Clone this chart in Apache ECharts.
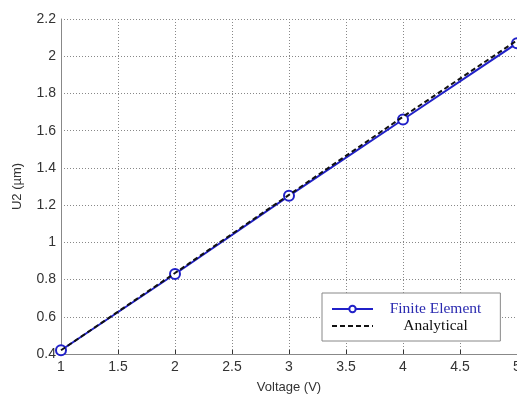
<!DOCTYPE html>
<html><head><meta charset="utf-8">
<script src="https://cdn.jsdelivr.net/npm/echarts@6/dist/echarts.min.js"></script>
<style>html,body{margin:0;padding:0;background:#fff}#c{width:517px;height:396px}</style>
</head><body><div id="c"></div>
<script>
const voltage = [1, 2, 3, 4, 5];
const finiteElement = [0.42, 0.83, 1.25, 1.66, 2.07];
const analytical = [0.42, 0.835, 1.255, 1.675, 2.085];
const seriesNames = ['Finite Element', 'Analytical'];

const chart = echarts.init(document.getElementById('c'));
const gridLine = {show: true, lineStyle: {color: '#888', type: [1, 2], width: 1}};
chart.setOption({
  animation: false,
  backgroundColor: '#fff',
  grid: {left: 61, right: 0, top: 19, bottom: 42, outerBoundsMode: 'none', containLabel: false},
  xAxis: {
    type: 'value', min: 1, max: 5, interval: 0.5,
    name: 'Voltage (V)', nameLocation: 'middle', nameGap: 27,
    nameTextStyle: {fontFamily: 'Liberation Sans', fontSize: 13, color: '#333'},
    axisLine: {lineStyle: {color: '#888'}},
    axisTick: {inside: true, length: 4, lineStyle: {color: '#333'}},
    axisLabel: {fontFamily: 'Liberation Sans', fontSize: 14, color: '#333', margin: 6},
    splitLine: gridLine
  },
  yAxis: {
    type: 'value', min: 0.4, max: 2.2, interval: 0.2,
    name: 'U2 (µm)', nameLocation: 'middle', nameGap: 37, nameRotate: 90,
    nameTextStyle: {fontFamily: 'Liberation Sans', fontSize: 13, color: '#333'},
    axisLine: {show: true, lineStyle: {color: '#888'}},
    axisTick: {show: false},
    axisLabel: {fontFamily: 'Liberation Sans', fontSize: 14, color: '#333', margin: 5,
      formatter: v => String(Math.round(v * 10) / 10)},
    splitLine: gridLine
  },
  legend: {
    left: 322, top: 293, orient: 'vertical',
    backgroundColor: '#fff', borderColor: '#888', borderWidth: 1,
    padding: [8, 19, 7, 9], itemGap: 1, itemWidth: 41, itemHeight: 8,
    formatter: name => '{t|' + name + '}',
    textStyle: {fontFamily: 'Liberation Serif', fontSize: 15.5,
      rich: {t: {width: 115, align: 'center', fontFamily: 'Liberation Serif', fontSize: 15.5}}},
    data: [
      {name: seriesNames[0], textStyle: {color: '#2a2ab0'}},
      {name: seriesNames[1], textStyle: {color: '#111'}, itemStyle: {opacity: 0}}
    ]
  },
  series: [
    {
      name: seriesNames[1], type: 'line', data: voltage.map((v, i) => [v, analytical[i]]),
      symbol: 'none', lineStyle: {color: '#111', width: 2, type: [5, 3]}, itemStyle: {color: '#111'}, z: 3
    },
    {
      name: seriesNames[0], type: 'line', data: voltage.map((v, i) => [v, finiteElement[i]]),
      symbol: 'emptyCircle', symbolSize: 10,
      lineStyle: {color: '#2020c8', width: 2}, itemStyle: {color: '#2020c8', borderWidth: 2}, z: 2
    }
  ]
});
</script></body></html>
